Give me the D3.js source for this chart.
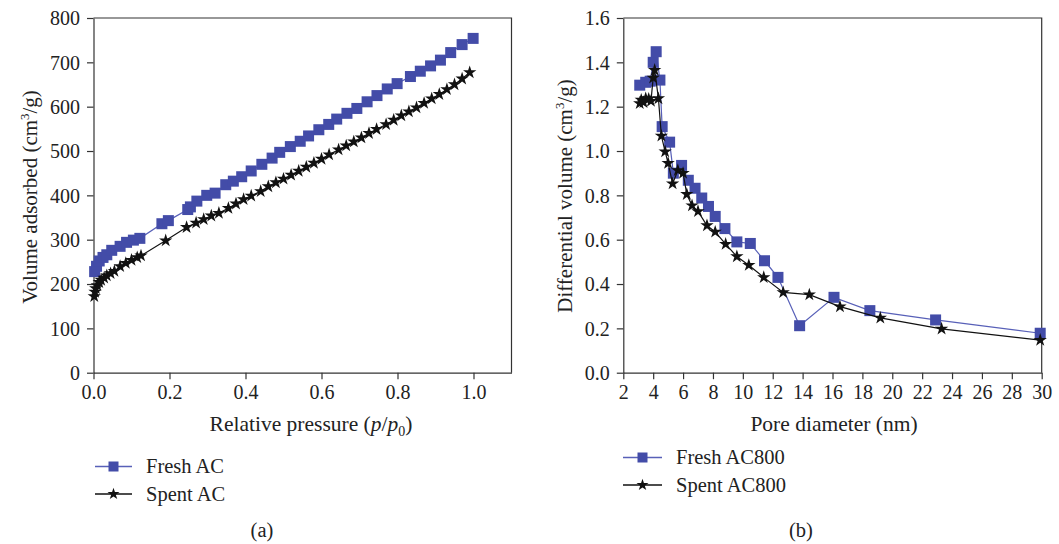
<!DOCTYPE html>
<html>
<head>
<meta charset="utf-8">
<script src="https://cdn.jsdelivr.net/npm/d3@7"></script>
<style>
  body { margin: 0; background: #fff; }
  svg text { font-family: "Liberation Serif", "DejaVu Serif", serif; fill: #222; }
</style>
</head>
<body>
<svg id="chart" width="1059" height="544"></svg>
<script>
// (a) adsorption isotherms: relative pressure vs volume adsorbed
const freshP = [0.003, 0.008, 0.015, 0.025, 0.035, 0.048, 0.07, 0.087, 0.105, 0.122, 0.18, 0.197, 0.248, 0.255, 0.272, 0.298, 0.32, 0.348, 0.368, 0.39, 0.415, 0.443, 0.47, 0.49, 0.518, 0.544, 0.566, 0.593, 0.619, 0.64, 0.667, 0.693, 0.72, 0.746, 0.773, 0.799, 0.834, 0.86, 0.887, 0.913, 0.94, 0.97, 0.999];
const freshV = [228, 240, 252, 260, 266, 276, 285, 294, 299, 303, 336, 343, 368, 374, 387, 400, 405, 424, 432, 442, 455, 470, 484, 497, 510, 522, 534, 548, 560, 572, 585, 596, 611, 625, 640, 652, 668, 680, 692, 705, 722, 740, 754];
const spentP = [0.002, 0.004, 0.006, 0.01, 0.015, 0.02, 0.028, 0.035, 0.045, 0.055, 0.07, 0.085, 0.1, 0.115, 0.125, 0.19, 0.245, 0.27, 0.29, 0.31, 0.33, 0.355, 0.375, 0.395, 0.415, 0.44, 0.46, 0.48, 0.5, 0.52, 0.54, 0.56, 0.58, 0.6, 0.62, 0.645, 0.665, 0.685, 0.705, 0.725, 0.745, 0.77, 0.79, 0.81, 0.83, 0.85, 0.87, 0.89, 0.91, 0.93, 0.95, 0.97, 0.99];
const spentV = [172, 182, 190, 197, 204, 209, 214, 219, 224, 229, 240, 247, 254, 260, 264, 298, 328, 338, 346, 354, 360, 371, 381, 391, 399, 409, 420, 429, 437, 446, 455, 464, 473, 482, 492, 503, 512, 521, 530, 540, 549, 560, 570, 580, 589, 598, 608, 618, 628, 639, 650, 663, 677];

// (b) pore size distribution
const freshD = [3.1, 3.5, 3.8, 4.0, 4.2, 4.45, 4.6, 5.1, 5.35, 5.9, 6.35, 6.8, 7.25, 7.7, 8.15, 8.8, 9.6, 10.5, 11.45, 12.35, 13.8, 16.1, 18.5, 22.9, 29.9];
const freshDV = [1.297, 1.31, 1.315, 1.40, 1.448, 1.32, 1.11, 1.04, 0.90, 0.935, 0.868, 0.832, 0.788, 0.75, 0.705, 0.65, 0.59, 0.583, 0.505, 0.43, 0.212, 0.34, 0.28, 0.238, 0.178];
const spentD = [3.1, 3.2, 3.35, 3.5, 3.7, 3.85, 4.0, 4.1, 4.35, 4.55, 4.8, 5.0, 5.3, 5.65, 6.0, 6.25, 6.6, 7.0, 7.6, 8.15, 8.85, 9.6, 10.4, 11.4, 12.7, 14.45, 16.5, 19.2, 23.3, 29.9];
const spentDV = [1.215, 1.23, 1.22, 1.237, 1.235, 1.225, 1.33, 1.365, 1.237, 1.068, 0.997, 0.945, 0.853, 0.913, 0.9, 0.805, 0.754, 0.728, 0.664, 0.635, 0.58, 0.524, 0.485, 0.43, 0.362, 0.352, 0.298, 0.247, 0.198, 0.147];

const ticksA_x = [0, 0.2, 0.4, 0.6, 0.8, 1.0];
const ticksA_y = [0, 100, 200, 300, 400, 500, 600, 700, 800];
const ticksB_x = [2, 4, 6, 8, 10, 12, 14, 16, 18, 20, 22, 24, 26, 28, 30];
const ticksB_y = [0, 0.2, 0.4, 0.6, 0.8, 1.0, 1.2, 1.4, 1.6];

const blue = "#434ca8";
const blueLine = "#5860b8";
const black = "#111";

const svg = d3.select("#chart");
const plotTop = 18, plotBottom = 372.7;

function drawPanel(opt) {
    const x = d3.scaleLinear().domain(opt.xDomain).range([opt.left, opt.right]);
    const y = d3.scaleLinear().domain(opt.yDomain).range([plotBottom, plotTop]);
    const g = svg.append("g");

    // frame (top + right)
    g.append("path")
        .attr("d", `M${opt.left},${plotTop}H${opt.right}V${plotBottom}`)
        .attr("fill", "none")
        .attr("stroke", "#333")
        .attr("stroke-width", 1.2);

    const xAxis = g.append("g")
        .attr("transform", `translate(0,${plotBottom})`)
        .call(d3.axisBottom(x).tickValues(opt.xTicks).tickFormat(opt.xFmt).tickSize(6.5).tickSizeOuter(0).tickPadding(6));
    const yAxis = g.append("g")
        .attr("transform", `translate(${opt.left},0)`)
        .call(d3.axisLeft(y).tickValues(opt.yTicks).tickFormat(opt.yFmt).tickSize(6.5).tickSizeOuter(0).tickPadding(7));
    [xAxis, yAxis].forEach(a => {
        a.select(".domain").attr("stroke", "#333").attr("stroke-width", 1.2);
        a.selectAll(".tick line").attr("stroke", "#333").attr("stroke-width", 1.2);
        a.selectAll(".tick text").attr("font-size", "20px").attr("fill", "#222")
            .style("font-family", "Liberation Serif");
    });
    yAxis.selectAll(".tick text").attr("dy", "0.34em");

    const line = d3.line().x(d => x(d[0])).y(d => y(d[1]));

    const fresh = d3.zip(opt.freshX, opt.freshY);
    const spent = d3.zip(opt.spentX, opt.spentY);

    g.append("path").datum(fresh).attr("d", line)
        .attr("fill", "none").attr("stroke", blueLine).attr("stroke-width", 1.2);
    g.selectAll(".sq").data(fresh).enter().append("rect")
        .attr("x", d => x(d[0]) - 5.5).attr("y", d => y(d[1]) - 5.5)
        .attr("width", 11).attr("height", 11)
        .attr("fill", blue);

    g.append("path").datum(spent).attr("d", line)
        .attr("fill", "none").attr("stroke", black).attr("stroke-width", 1.2);
    g.selectAll(".st").data(spent).enter().append("path")
        .attr("d", d3.symbol(d3.symbolStar, 55))
        .attr("transform", d => `translate(${x(d[0])},${y(d[1])})`)
        .attr("fill", black);

    return g;
}

drawPanel({
    left: 93.5, right: 511.5,
    xDomain: [0, 1.1], yDomain: [0, 800],
    xTicks: ticksA_x, yTicks: ticksA_y,
    xFmt: d3.format(".1f"), yFmt: d3.format("d"),
    freshX: freshP, freshY: freshV, spentX: spentP, spentY: spentV
});

drawPanel({
    left: 623.3, right: 1041.7,
    xDomain: [2, 30], yDomain: [0, 1.6],
    xTicks: ticksB_x, yTicks: ticksB_y,
    xFmt: d3.format("d"), yFmt: d3.format(".1f"),
    freshX: freshD, freshY: freshDV, spentX: spentD, spentY: spentDV
});

// axis titles
function cmLabel(x, y, first) {
    const t = svg.append("text")
        .attr("transform", `translate(${x},${y}) rotate(-90)`)
        .attr("text-anchor", "middle")
        .attr("font-size", "21px");
    t.append("tspan").text(first + " (cm");
    t.append("tspan").text("3").attr("font-size", "13px").attr("dy", "-8");
    t.append("tspan").text("/g)").attr("dy", "8");
}
cmLabel(37, 197, "Volume adsorbed");
cmLabel(572, 196, "Differential volume");

const px = svg.append("text").attr("x", 311).attr("y", 431)
    .attr("text-anchor", "middle").attr("font-size", "21.5px");
px.append("tspan").text("Relative pressure (");
px.append("tspan").text("p").attr("font-style", "italic");
px.append("tspan").text("/");
px.append("tspan").text("p").attr("font-style", "italic");
px.append("tspan").text("0").attr("font-size", "14px").attr("dy", "5");
px.append("tspan").text(")").attr("dy", "-5");

svg.append("text").attr("x", 834).attr("y", 431)
    .attr("text-anchor", "middle").attr("font-size", "21.5px")
    .text("Pore diameter (nm)");

// legends
function legend(x0, x1, xt, rows) {
    rows.forEach(r => {
        svg.append("line").attr("x1", x0).attr("x2", x1).attr("y1", r.y).attr("y2", r.y)
            .attr("stroke", r.kind === "sq" ? blueLine : black).attr("stroke-width", 1.4);
        const cx = (x0 + x1) / 2;
        if (r.kind === "sq") {
            svg.append("rect").attr("x", cx - 5).attr("y", r.y - 5).attr("width", 10).attr("height", 10).attr("fill", blue);
        } else {
            svg.append("path").attr("d", d3.symbol(d3.symbolStar, 45))
                .attr("transform", `translate(${cx},${r.y})`).attr("fill", black);
        }
        svg.append("text").attr("x", xt).attr("y", r.y + 6.5).attr("font-size", "20.5px").text(r.label);
    });
}
legend(95, 132, 146, [{ y: 466.5, kind: "sq", label: "Fresh AC" }, { y: 494, kind: "st", label: "Spent AC" }]);
legend(623, 662, 676, [{ y: 457.5, kind: "sq", label: "Fresh AC800" }, { y: 485, kind: "st", label: "Spent AC800" }]);

svg.append("text").attr("x", 262).attr("y", 537).attr("text-anchor", "middle").attr("font-size", "20.5px").text("(a)");
svg.append("text").attr("x", 801).attr("y", 537).attr("text-anchor", "middle").attr("font-size", "20.5px").text("(b)");
</script>
</body>
</html>
